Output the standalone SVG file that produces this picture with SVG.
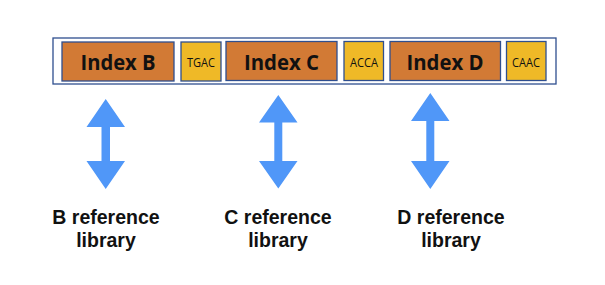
<svg xmlns="http://www.w3.org/2000/svg" width="605" height="285" viewBox="0 0 605 285">
  <style>
    .frame { fill: #ffffff; stroke: #2f4f8f; stroke-width: 1.3; }
    .idx { fill: #d27a35; stroke: #2f4f8f; stroke-width: 1.3; }
    .bc { fill: #efb927; stroke: #2f4f8f; stroke-width: 1.3; }
    .idx-t { font-family: "Open Sans", "Noto Sans", sans-serif; font-weight: 700; font-size: 22px; fill: #111111; text-anchor: middle; }
    .bc-t { font-family: "Open Sans", "Noto Sans", sans-serif; font-weight: 400; font-size: 12px; fill: #111111; text-anchor: middle; }
    .lib-t { font-family: "Liberation Sans", Arial, sans-serif; font-weight: bold; font-size: 19.5px; fill: #111111; text-anchor: middle; }
    .arr { fill: #5097f8; }
  </style>

  <rect class="frame" x="53" y="38" width="503" height="46"/>

  <g id="index-b">
    <rect class="idx" x="62" y="42" width="112" height="39"/>
    <text class="idx-t" x="118" y="70" textLength="75" lengthAdjust="spacingAndGlyphs">Index B</text>
  </g>
  <g id="bc-tgac">
    <rect class="bc" x="181" y="42" width="40" height="39"/>
    <text class="bc-t" x="201" y="67.3" textLength="28" lengthAdjust="spacingAndGlyphs">TGAC</text>
  </g>
  <g id="index-c">
    <rect class="idx" x="226" y="41.5" width="111" height="39"/>
    <text class="idx-t" x="281.5" y="70" textLength="75" lengthAdjust="spacingAndGlyphs">Index C</text>
  </g>
  <g id="bc-acca">
    <rect class="bc" x="344" y="41.5" width="39.5" height="39"/>
    <text class="bc-t" x="364" y="67.3" textLength="28" lengthAdjust="spacingAndGlyphs">ACCA</text>
  </g>
  <g id="index-d">
    <rect class="idx" x="390" y="41.5" width="110.5" height="39"/>
    <text class="idx-t" x="445" y="70" textLength="77" lengthAdjust="spacingAndGlyphs">Index D</text>
  </g>
  <g id="bc-caac">
    <rect class="bc" x="506.5" y="41.5" width="39.5" height="39"/>
    <text class="bc-t" x="526" y="67.3" textLength="28" lengthAdjust="spacingAndGlyphs">CAAC</text>
  </g>

  <g id="connectors">
    <!-- double-headed block arrows -->
    <path class="arr" d="M105.7 99 L125 127 L110 127 L110 161 L125 161 L105.7 189 L86.5 161 L101.5 161 L101.5 127 L86.5 127 Z"/>
    <path class="arr" d="M278.3 95 L297.5 122.5 L282.3 122.5 L282.3 161 L297.5 161 L278.3 188.5 L259 161 L274.3 161 L274.3 122.5 L259 122.5 Z"/>
    <path class="arr" d="M430.3 93 L449.5 121 L434.3 121 L434.3 161 L449.5 161 L430.3 189 L411 161 L426.3 161 L426.3 121 L411 121 Z"/>
  </g>

  <g id="lib-b">
    <text class="lib-t" x="106" y="224">B reference</text>
    <text class="lib-t" x="106" y="247">library</text>
  </g>
  <g id="lib-c">
    <text class="lib-t" x="278" y="224">C reference</text>
    <text class="lib-t" x="278" y="247">library</text>
  </g>
  <g id="lib-d">
    <text class="lib-t" x="451" y="224">D reference</text>
    <text class="lib-t" x="451" y="247">library</text>
  </g>
</svg>
